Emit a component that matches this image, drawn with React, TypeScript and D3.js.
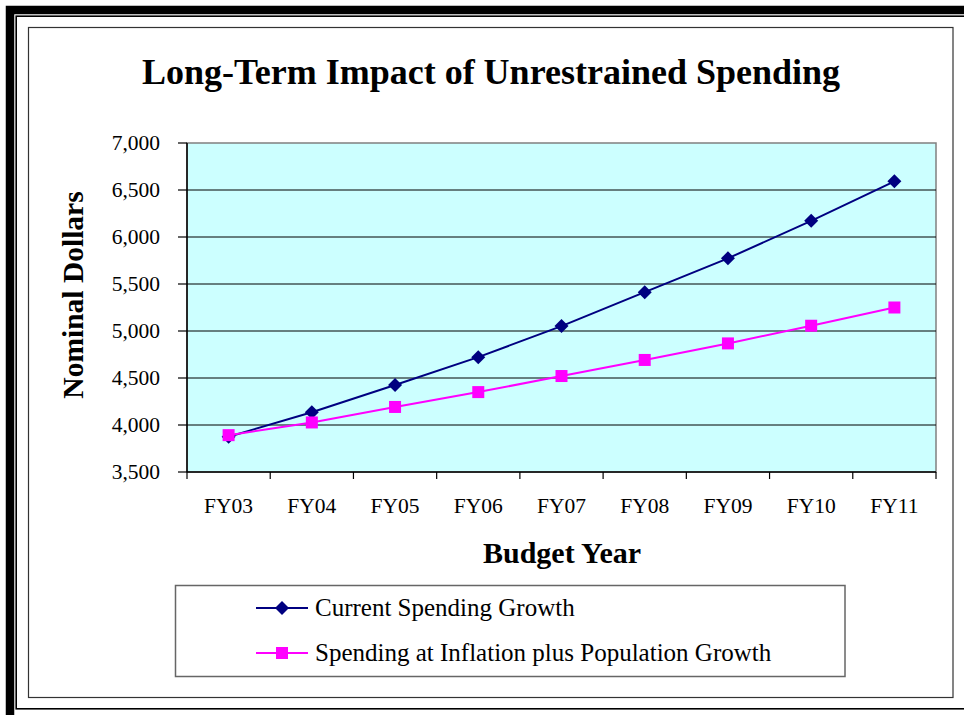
import React from "react";
import * as d3 from "d3";

const categories = ["FY03", "FY04", "FY05", "FY06", "FY07", "FY08", "FY09", "FY10", "FY11"];
const currentSpending = [3875, 4135, 4425, 4722, 5052, 5413, 5773, 6172, 6592];
const inflationPopulation = [3892, 4027, 4192, 4350, 4521, 4692, 4868, 5056, 5250];
const yTicks = [3500, 4000, 4500, 5000, 5500, 6000, 6500, 7000];
const seriesNames = ["Current Spending Growth", "Spending at Inflation plus Population Growth"];

const W = 964;
const H = 715;
const FONT = "'Liberation Serif', 'Times New Roman', serif";

export default function App() {
  const plotL = 187, plotR = 936, plotT = 143, plotB = 472;
  const x = d3.scaleBand<string>().domain(categories).range([plotL, plotR]).padding(0);
  const y = d3.scaleLinear().domain([3500, 7000]).range([plotB, plotT]);
  const cx = (c: string) => (x(c) as number) + x.bandwidth() / 2;
  const fmt = d3.format(",");

  const line = d3
    .line<number>()
    .x((_, i) => cx(categories[i]))
    .y((d) => y(d));

  const diamond = (px: number, py: number, r: number) =>
    `M${px},${py - r}L${px + r},${py}L${px},${py + r}L${px - r},${py}Z`;

  const blue = "#000080";
  const pink = "#FF00FF";

  return (
    <svg width={W} height={H} style={{ position: "absolute", left: 0, top: 0 }} xmlns="http://www.w3.org/2000/svg">
      <rect x={0} y={0} width={W} height={H} fill="#fff" />
      {/* outer frame */}
      <rect x={10} y={10} width={980} height={711} fill="none" stroke="#000" strokeWidth={8.5} />
      <rect x={16.2} y={16.2} width={980} height={692.6} fill="none" stroke="#000" strokeWidth={1.6} />
      {/* chart area border */}
      <rect x={28.5} y={27.5} width={924.5} height={670} fill="#fff" stroke="#333" strokeWidth={1.2} />

      {/* title */}
      <text x={491} y={84} textAnchor="middle" fontFamily={FONT} fontWeight="bold" fontSize={36} fill="#000">
        Long-Term Impact of Unrestrained Spending
      </text>

      {/* plot area */}
      <rect x={plotL} y={plotT} width={plotR - plotL} height={plotB - plotT} fill="#CCFFFF" stroke="#808080" strokeWidth={1.5} />

      {/* gridlines */}
      {yTicks
        .filter((t) => t !== 3500 && t !== 7000)
        .map((t) => (
          <line key={t} x1={plotL} x2={plotR} y1={y(t)} y2={y(t)} stroke="#000" strokeWidth={1} />
        ))}

      {/* axes */}
      <line x1={plotL} x2={plotL} y1={plotT} y2={plotB} stroke="#000" strokeWidth={1.5} />
      <line x1={plotL} x2={plotR} y1={plotB} y2={plotB} stroke="#000" strokeWidth={1.5} />

      {/* y ticks */}
      {yTicks.map((t) => (
        <g key={t}>
          <line x1={plotL - 9} x2={plotL} y1={y(t)} y2={y(t)} stroke="#000" strokeWidth={1.2} />
          <text x={160} y={y(t) + 7} textAnchor="end" fontFamily={FONT} fontSize={21.5} fill="#000">
            {fmt(t)}
          </text>
        </g>
      ))}

      {/* x ticks */}
      {[...categories.map((c) => x(c) as number), plotR].map((px, i) => (
        <line key={i} x1={px} x2={px} y1={plotB} y2={plotB + 7} stroke="#000" strokeWidth={1.2} />
      ))}
      {categories.map((c) => (
        <text key={c} x={cx(c)} y={513} textAnchor="middle" fontFamily={FONT} fontSize={21.5} fill="#000">
          {c}
        </text>
      ))}

      {/* axis titles */}
      <text x={562} y={563} textAnchor="middle" fontFamily={FONT} fontWeight="bold" fontSize={30} fill="#000">
        Budget Year
      </text>
      <text
        transform={`translate(83,295) rotate(-90)`}
        textAnchor="middle"
        fontFamily={FONT}
        fontWeight="bold"
        fontSize={29.5}
        fill="#000"
      >
        Nominal Dollars
      </text>

      {/* series */}
      <path d={line(currentSpending) || ""} fill="none" stroke={blue} strokeWidth={2} />
      <path d={line(inflationPopulation) || ""} fill="none" stroke={pink} strokeWidth={2} />
      {currentSpending.map((v, i) => (
        <path key={"d" + i} d={diamond(cx(categories[i]), y(v), 7)} fill={blue} />
      ))}
      {inflationPopulation.map((v, i) => (
        <rect key={"s" + i} x={cx(categories[i]) - 6} y={y(v) - 6} width={12} height={12} fill={pink} />
      ))}

      {/* legend */}
      <rect x={175.5} y={585.5} width={669.5} height={91} fill="#fff" stroke="#666" strokeWidth={1.5} />
      <line x1={256} x2={308} y1={608} y2={608} stroke={blue} strokeWidth={2} />
      <path d={diamond(282, 608, 7)} fill={blue} />
      <text x={315} y={616} fontFamily={FONT} fontSize={25} fill="#000">
        {seriesNames[0]}
      </text>
      <line x1={256} x2={308} y1={653} y2={653} stroke={pink} strokeWidth={2} />
      <rect x={282 - 6} y={653 - 6} width={12} height={12} fill={pink} />
      <text x={315} y={661} fontFamily={FONT} fontSize={25} fill="#000">
        {seriesNames[1]}
      </text>
    </svg>
  );
}
